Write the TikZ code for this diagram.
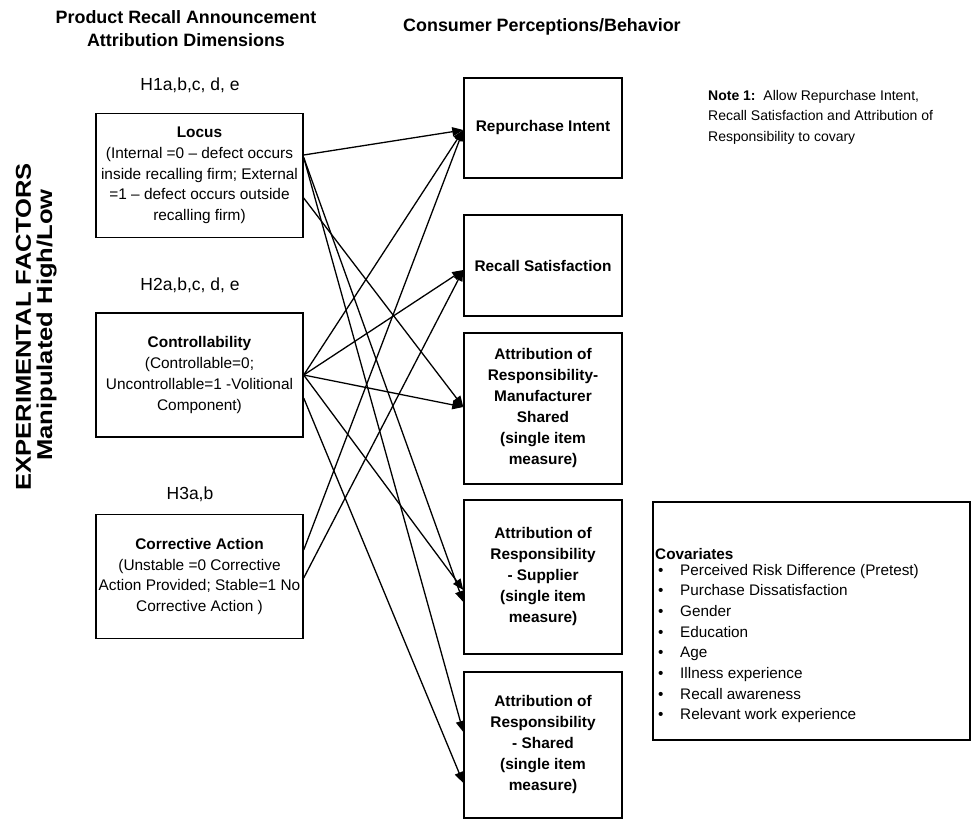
\documentclass[tikz,border=0pt]{standalone}
\usepackage{fontspec}
\setmainfont{Liberation Sans}
\usetikzlibrary{arrows.meta,calc}
\begin{document}
\begin{tikzpicture}[x=1pt,y=-1pt,
  box/.style={draw,line width=1.4pt,inner sep=0pt,align=center},
  lbox/.style={box,minimum width=207pt,minimum height=124pt,font=\fontsize{15.4}{20.7}\selectfont},
  rbox/.style={box,minimum width=158pt,font=\bfseries\fontsize{15.4}{21}\selectfont},
  conn/.style={line width=1.3pt,-{Triangle[length=11pt,width=9pt]}},
  hyp/.style={font=\fontsize{17.5}{20}\selectfont,anchor=base},
  head/.style={font=\bfseries\fontsize{17.9}{23}\selectfont,anchor=base},
  vert/.style={font=\bfseries\fontsize{21.5}{24}\selectfont,rotate=90,inner sep=0pt},
  txt/.style={font=\fontsize{15.3}{20.7}\selectfont,anchor=base west,inner sep=0pt},
  note/.style={font=\fontsize{14}{20}\selectfont,anchor=base west,inner sep=0pt},
]
\useasboundingbox (0,0) rectangle (976,824);

% headers
\node[head] (h1) at (186,24) {Product Recall Announcement};
\node[head] (h2) at (186,47) {Attribution Dimensions};
\node[head,anchor=base west,inner sep=0pt] (h3) at (403,32) {Consumer Perceptions/Behavior};

% vertical labels
\node[vert] (v1) at (23.5,327) {\scalebox{1.19}[1]{EXPERIMENTAL FACTORS}};
\node[vert] (v2) at (46.5,325) {\scalebox{1.19}[1]{Manipulated High/Low}};

% hypothesis labels
\node[hyp] (hy1) at (190,91) {H1a,b,c, d, e};
\node[hyp] (hy2) at (190,290) {H2a,b,c, d, e};
\node[hyp] (hy3) at (190,499) {H3a,b};

% left boxes
\node[lbox] (locus) at (199.5,175.5) {\textbf{Locus}\\(Internal =0 -- defect occurs\\inside recalling firm; External\\=1 -- defect occurs outside\\recalling firm)};
\node[lbox] (ctrl) at (199.5,375) {\textbf{Controllability}\\(Controllable=0;\\Uncontrollable=1 -Volitional\\Component)};
\node[lbox] (corr) at (199.5,576.5) {\textbf{Corrective Action}\\(Unstable =0 Corrective\\Action Provided; Stable=1 No\\Corrective Action )};

% right boxes
\node[rbox,minimum height=100pt] (ri) at (543,128) {Repurchase Intent};
\node[rbox,minimum height=101pt] (rs) at (543,265.5) {Recall Satisfaction};
\node[rbox,minimum height=151pt] (am) at (543,408.5) {Attribution of\\Responsibility-\\Manufacturer\\Shared\\(single item\\measure)};
\node[rbox,minimum height=154pt] (as) at (543,577) {Attribution of\\Responsibility\\- Supplier\\(single item\\measure)};
\node[rbox,minimum height=146pt] (ash) at (543,745) {Attribution of\\Responsibility\\- Shared\\(single item\\measure)};

% note
\node[note] (n1) at (708,101) {\textbf{Note 1:}\ \ Allow Repurchase Intent,};
\node[note] (n2) at (708,121) {Recall Satisfaction and Attribution of};
\node[note] (n3) at (708,141) {Responsibility to covary};

% covariates
\node[box,minimum width=317pt,minimum height=238pt] (cov) at (811.5,621) {};
\node[txt] (ct) at (655,559.3) {\textbf{Covariates}};
\foreach \t [count=\i] in {Perceived Risk Difference (Pretest),Purchase Dissatisfaction,Gender,Education,Age,Illness experience,Recall awareness,Relevant work experience}{
  \node[txt] (cb\i) at (658,{575+(\i-1)*20.7}) {\textbullet};
  \node[txt] (ci\i) at (680,{575+(\i-1)*20.7}) {\t};
}

% connection points
\coordinate (lo1) at ($(locus.east)+(0,-20.5)$);
\coordinate (lo2) at ($(locus.east)+(0,-18)$);
\coordinate (lo3) at ($(locus.east)+(0,22.5)$);
\coordinate (co1) at (ctrl.east);
\coordinate (co2) at ($(ctrl.east)+(0,23)$);
\coordinate (ca1) at ($(corr.east)+(0,-26.5)$);
\coordinate (ca2) at ($(corr.east)+(0,1.5)$);
\coordinate (tri) at ($(ri.west)+(0,2)$);
\coordinate (trs) at ($(rs.west)+(0,4.5)$);
\coordinate (tam) at ($(am.west)+(0,-1.5)$);
\coordinate (tas1) at ($(as.west)+(0,13)$);
\coordinate (tas2) at ($(as.west)+(0,25)$);
\coordinate (tsh1) at ($(ash.west)+(0,-13)$);
\coordinate (tsh2) at ($(ash.west)+(0,38)$);

% connectors
\draw[conn] (lo1) -- (tri);
\draw[conn] (lo2) -- (tas2);
\draw[conn] (lo2) -- (tsh1);
\draw[conn] (lo3) -- (tam);
\draw[conn] (co1) -- (tri);
\draw[conn] (co1) -- (trs);
\draw[conn] (co1) -- (tam);
\draw[conn] (co1) -- (tas1);
\draw[conn] (co2) -- (tsh2);
\draw[conn] (ca1) -- (tri);
\draw[conn] (ca2) -- (trs);
\end{tikzpicture}
\end{document}
